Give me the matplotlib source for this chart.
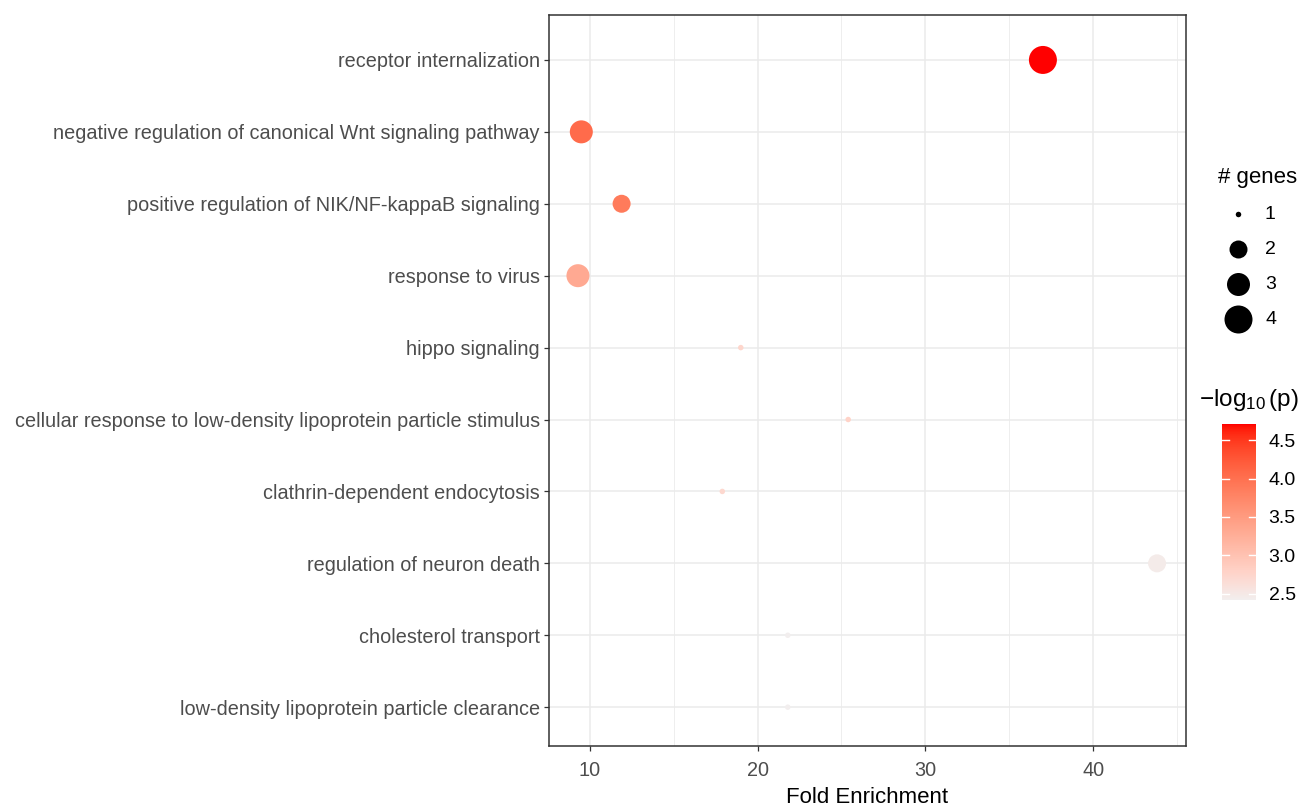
import numpy as np
import matplotlib
matplotlib.use("Agg")
import matplotlib.pyplot as plt
from matplotlib.colors import ListedColormap, Normalize, to_rgb
from matplotlib.colorbar import ColorbarBase

plt.rcParams["font.family"] = ["Liberation Sans", "DejaVu Sans"]
plt.rcParams["mathtext.fontset"] = "custom"
plt.rcParams["mathtext.rm"] = "Liberation Sans"
plt.rcParams["mathtext.it"] = "Liberation Sans:italic"

# GO terms (top to bottom) and their enrichment statistics
terms = [
    "receptor internalization",
    "negative regulation of canonical Wnt signaling pathway",
    "positive regulation of NIK/NF-kappaB signaling",
    "response to virus",
    "hippo signaling",
    "cellular response to low-density lipoprotein particle stimulus",
    "clathrin-dependent endocytosis",
    "regulation of neuron death",
    "cholesterol transport",
    "low-density lipoprotein particle clearance",
]
fold_enrichment = [37.0, 9.5, 11.9, 9.3, 19.0, 25.4, 17.9, 43.8, 21.8, 21.8]
gene_counts = [4, 3, 2, 3, 1, 1, 1, 2, 1, 1]
neg_log10_p = [4.71, 4.05, 3.88, 3.32, 2.75, 2.78, 2.72, 2.47, 2.42, 2.42]

size_levels = [1, 2, 3, 4]
x_ticks = [10, 20, 30, 40]
cbar_ticks = [2.5, 3.0, 3.5, 4.0, 4.5]

# marker diameter (pixels) for each gene-count level
diam_px = {1: 5.5, 2: 18, 3: 23, 4: 28}


def marker_area(n):
    d_pt = diam_px[n] * 0.72
    return d_pt ** 2


# --- Lab-space gradient (low -> high), like ggplot's scale_colour_gradient ---
def _srgb_to_lin(c):
    c = np.asarray(c, float)
    return np.where(c <= 0.04045, c / 12.92, ((c + 0.055) / 1.055) ** 2.4)


def _lin_to_srgb(c):
    c = np.clip(c, 0, 1)
    return np.where(c <= 0.0031308, 12.92 * c, 1.055 * c ** (1 / 2.4) - 0.055)


_M = np.array([[0.4124, 0.3576, 0.1805],
               [0.2126, 0.7152, 0.0722],
               [0.0193, 0.1192, 0.9505]])
_WHITE = np.array([0.95047, 1.0, 1.08883])


def _f(t):
    return np.where(t > (6 / 29) ** 3, np.cbrt(t), t / (3 * (6 / 29) ** 2) + 4 / 29)


def _finv(t):
    return np.where(t > 6 / 29, t ** 3, 3 * (6 / 29) ** 2 * (t - 4 / 29))


def rgb_to_lab(rgb):
    xyz = _M @ _srgb_to_lin(rgb) / _WHITE
    fx, fy, fz = _f(xyz)
    return np.array([116 * fy - 16, 500 * (fx - fy), 200 * (fy - fz)])


def lab_to_rgb(lab):
    L, a, b = lab
    fy = (L + 16) / 116
    fx = fy + a / 500
    fz = fy - b / 200
    xyz = np.array([_finv(fx), _finv(fy), _finv(fz)]) * _WHITE
    return _lin_to_srgb(np.linalg.inv(_M) @ xyz)


low_lab = rgb_to_lab(to_rgb("#F2EEEE"))
high_lab = rgb_to_lab(to_rgb("#FF0000"))
cols = [lab_to_rgb(low_lab + t * (high_lab - low_lab)) for t in np.linspace(0, 1, 256)]
cmap = ListedColormap(np.clip(cols, 0, 1))
norm = Normalize(vmin=min(neg_log10_p), vmax=max(neg_log10_p))

# --- figure ---
W, H = 1316, 805
fig = plt.figure(figsize=(W / 100, H / 100), dpi=100)
ax = fig.add_axes([549 / W, 1 - 746 / H, (1186 - 549) / W, (746 - 15) / H])

n = len(terms)
ypos = np.arange(n, 0, -1)

ax.scatter(fold_enrichment, ypos,
           s=[marker_area(g) for g in gene_counts],
           c=cmap(norm(neg_log10_p)), linewidths=0, zorder=3)

xmin, xmax = min(fold_enrichment), max(fold_enrichment)
pad = 0.05 * (xmax - xmin)
ax.set_xlim(xmin - pad, xmax + pad)
ax.set_ylim(0.46, n + 0.625)

ax.set_xticks(x_ticks)
ax.set_xticks([15, 25, 35, 45], minor=True)
ax.set_yticks(ypos)
ax.set_yticklabels(terms)

ax.grid(True, which="major", color="#EBEBEB", linewidth=1.1, zorder=0)
ax.grid(True, which="minor", axis="x", color="#EBEBEB", linewidth=0.6, zorder=0)
ax.set_axisbelow(True)

for sp in ax.spines.values():
    sp.set_color("#333333")
    sp.set_linewidth(1.1)

ax.tick_params(axis="both", which="major", length=3.5, width=0.9, color="#333333",
               labelsize=14.3, labelcolor="#4D4D4D", pad=3)
ax.tick_params(axis="x", which="major", pad=7)
ax.tick_params(axis="both", which="minor", length=0)
ax.set_xlabel("Fold Enrichment", fontsize=16, color="black", labelpad=5)

# --- size legend ---
fig.text(1218 / W, 1 - 177 / H, "# genes", fontsize=16, ha="left", va="center")
lax = fig.add_axes([1218 / W, 1 - 337 / H, 60 / W, 140 / H])
lax.set_xlim(0, 60)
lax.set_ylim(337, 197)
lax.axis("off")
leg_y = [214, 249, 284, 319]
for g, yy in zip(size_levels, leg_y):
    lax.scatter([20], [yy], s=marker_area(g), color="black", linewidths=0)
    lax.text(47, yy, str(g), fontsize=14, ha="left", va="center")

# --- colour bar ---
fig.text(1199 / W, 1 - 400 / H, r"$-\log_{10}(\mathrm{p})$", fontsize=17.5,
         ha="left", va="center")
cax = fig.add_axes([1222 / W, 1 - 600 / H, 34 / W, 176 / H])
cb = ColorbarBase(cax, cmap=cmap, norm=norm, orientation="vertical")
cb.outline.set_visible(False)
cb.set_ticks(cbar_ticks)
cb.set_ticklabels([f"{t:.1f}" for t in cbar_ticks])
cax.tick_params(length=0, labelsize=14, pad=9)
for t in cbar_ticks:
    cax.plot([0, 0.2], [t, t], color="white", linewidth=1, transform=cax.get_yaxis_transform())
    cax.plot([0.8, 1.0], [t, t], color="white", linewidth=1, transform=cax.get_yaxis_transform())

fig.savefig("out.png", dpi=100, facecolor="white")
